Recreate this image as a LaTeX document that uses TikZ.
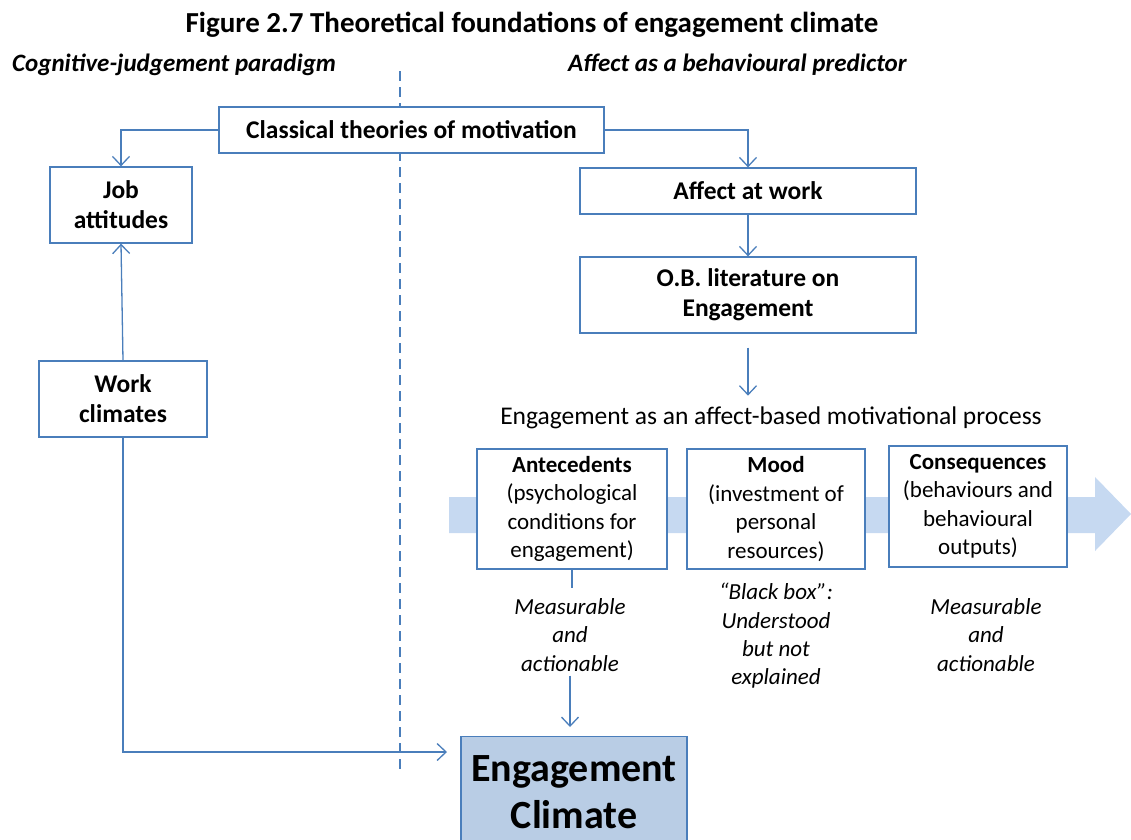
\documentclass[tikz,border=0pt]{standalone}
\usepackage{fontspec}
\setmainfont{Carlito}
\usetikzlibrary{arrows.meta}
\definecolor{lineblue}{HTML}{4A7EBB}
\definecolor{bandblue}{HTML}{C6D9F1}
\definecolor{climblue}{HTML}{B9CDE5}
\begin{document}
\begin{tikzpicture}[x=1pt,y=-1pt,
  txt/.style={font=\fontsize{23}{28.5}\selectfont, align=center, inner sep=0pt},
  boxed/.style={txt, draw=lineblue, line width=1.3pt, fill=white},
  headbox/.style={boxed, font=\fontsize{25.5}{30}\selectfont\bfseries},
  arr/.style={draw=lineblue, line width=1.3pt, -{Straight Barb[length=9pt,width=17pt,line width=1.3pt]}},
  link/.style={draw=lineblue, line width=1.3pt},
  note/.style={txt, font=\fontsize{23}{28.3}\selectfont\itshape},
  paradigm/.style={txt, font=\fontsize{25}{28}\selectfont\bfseries\itshape, anchor=west}
]
\useasboundingbox (0,0) rectangle (1131,839);

% headings
\node[txt, font=\fontsize{29}{32}\selectfont\bfseries] (title) at (532,25) {Figure 2.7 Theoretical foundations of engagement climate};
\node[paradigm] (leftpar) at (12,65) {Cognitive-judgement paradigm};
\node[paradigm] (rightpar) at (568,65) {Affect as a behavioural predictor};

% paradigm divider
\coordinate (divtop) at (400,71);
\coordinate (divbot) at (400,775);
\draw[lineblue, line width=1.5pt, dash pattern=on 10pt off 6pt] (divtop) -- (divbot);

% process band arrow
\fill[bandblue] (449,497) -- (1095,497) -- (1095,477) -- (1131,514) -- (1095,551) -- (1095,533) -- (449,533) -- cycle;

% boxes
\node[headbox, minimum width=385pt, minimum height=46pt] (classical) at (411.5,130) {Classical theories of motivation};
\node[headbox, minimum width=142pt, minimum height=76pt] (job) at (121,205) {Job\\attitudes};
\node[headbox, minimum width=336pt, minimum height=46pt] (affect) at (748,191) {Affect at work};
\node[headbox, minimum width=336pt, minimum height=76pt] (ob) at (748,295) {O.B. literature on\\Engagement};
\node[headbox, minimum width=168pt, minimum height=76pt] (work) at (123,399) {Work\\climates};

\node[txt, font=\fontsize{25.5}{30}\selectfont] (process) at (771,418) {Engagement as an affect-based motivational process};

\node[boxed, minimum width=190pt, minimum height=120pt] (ante) at (572,509) {\textbf{Antecedents}\\(psychological\\conditions for\\engagement)};
\node[boxed, minimum width=178pt, minimum height=120pt] (mood) at (776,509) {\textbf{Mood}\\(investment of\\personal\\resources)};
\node[boxed, minimum width=178pt, minimum height=121pt] (cons) at (978,506.5) {\textbf{Consequences}\\(behaviours and\\behavioural\\outputs)};

\node[note] (meas1) at (570,635) {Measurable\\and\\actionable};
\node[note] (blackbox) at (776,636) {``Black box'':\\Understood\\but not\\explained};
\node[note] (meas2) at (986,635) {Measurable\\and\\actionable};

\node[boxed, fill=climblue, font=\fontsize{40}{47}\selectfont\bfseries, minimum width=226pt, minimum height=112pt, anchor=north] (ec) at (574,736) {Engagement\\Climate};

% connectors
\draw[arr] (classical.west) -| (job.north);
\draw[arr] (classical.east) -| (affect.north);
\draw[arr] (affect.south) -- (affect.south |- ob.north);
\coordinate (obout) at ([yshift=-14pt]ob.south);
\coordinate (processin) at ([yshift=-62pt]ob.south);
\draw[arr] (obout) -- (processin);
\draw[arr] (work.north) -- (job.south);
\coordinate (antestub) at ([yshift=-18pt]ante.south);
\draw[link] (ante.south) -- (antestub);
\coordinate (measout) at ([yshift=-4pt]meas1.south);
\coordinate (ecin) at ([yshift=9pt]ec.north -| meas1.south);
\draw[arr] (measout) -- (ecin);
\coordinate (ecleft) at (447,752);
\draw[arr] (work.south) |- (ecleft);
\end{tikzpicture}
\end{document}
